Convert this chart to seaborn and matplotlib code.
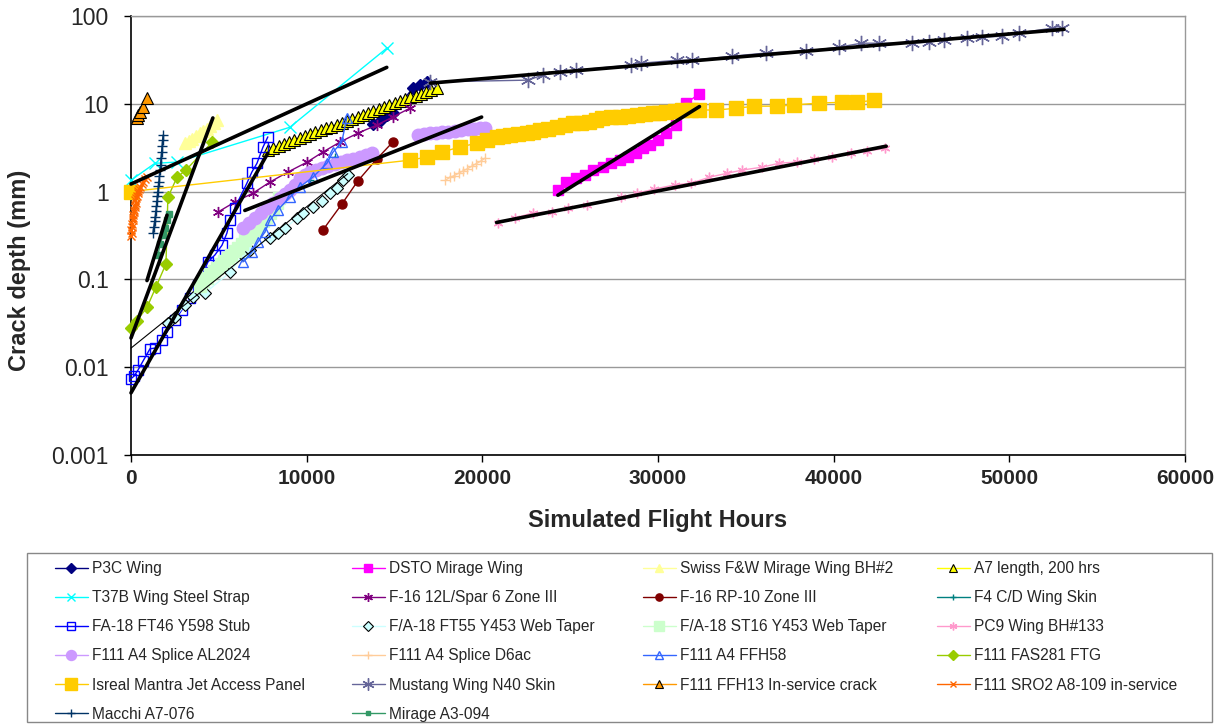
import matplotlib
matplotlib.use("Agg")
import matplotlib.pyplot as plt
from matplotlib.patches import Rectangle
from matplotlib.ticker import NullLocator
import seaborn as sns

# ---------------- data ----------------
p3c_x = [13760, 14160, 14560, 14900, 16040, 16440, 16830]
p3c_y = [5.9, 6.3, 7.4, 7.8, 15.1, 16.3, 17.7]

dsto_x = [24300, 24780, 25350, 25820, 26290, 26860, 27340, 27810, 28280, 28760,
          29140, 29520, 29990, 30460, 31030, 31600, 32360]
dsto_y = [1.04, 1.29, 1.41, 1.54, 1.76, 1.92, 2.09, 2.28, 2.49, 2.72,
          3.1, 3.38, 3.86, 4.6, 5.7, 10.1, 13.1]

swiss_x = [3100, 3300, 3500, 3700, 3900, 4100, 4300, 4500, 4700, 4900]
swiss_y = [3.6, 3.8, 4.0, 4.3, 4.6, 4.9, 5.2, 5.6, 6.0, 6.5]

a7_x = [7800, 8100, 8400, 8700, 9000, 9300, 9600, 9900, 10200, 10500, 10800,
        11100, 11400, 11700, 12000, 12300, 12600, 12900, 13200, 13500, 13800,
        14100, 14400, 14700, 15000, 15300, 15600, 15900, 16200, 16500, 16800,
        17100, 17400]
a7_y = [3.0, 3.15, 3.3, 3.5, 3.7, 3.85, 4.05, 4.3, 4.5, 4.75, 5.0,
        5.25, 5.5, 5.8, 6.1, 6.4, 6.8, 7.1, 7.5, 7.9, 8.3,
        8.7, 9.2, 9.6, 10.1, 10.7, 11.2, 11.8, 12.4, 13.1, 13.8,
        14.5, 15.1]

t37b_x = [0, 1360, 2620, 9040, 14560]
t37b_y = [1.35, 2.1, 2.17, 5.4, 43.0]

f16l_x = [4950, 5910, 6940, 7900, 8930, 10010, 10920, 11890, 12910, 13990, 14900, 15870]
f16l_y = [0.585, 0.76, 0.96, 1.28, 1.67, 2.16, 2.82, 3.66, 4.63, 5.72, 7.07, 8.9]

f16rp_x = [10920, 12000, 12910, 13990, 14900]
f16rp_y = [0.364, 0.72, 1.32, 2.35, 3.66]

f4_x = [10180, 10860, 11600]
f4_y = [1.35, 1.75, 2.47]

ft46_x = [0, 170, 400, 680, 1080, 1360, 1760, 2050, 2500, 2900, 3360, 3810,
          4380, 4780, 5180, 5460, 5630, 5910, 6600, 6880, 7170, 7510, 7790]
ft46_y = [0.0074, 0.0079, 0.0093, 0.0117, 0.0162, 0.0165, 0.0204, 0.0251, 0.0344,
          0.045, 0.061, 0.086, 0.158, 0.19, 0.245, 0.337, 0.47, 0.65, 1.25, 1.67,
          2.1, 3.2, 4.2]

ft55_x = [2100, 2500, 3070, 3530, 4210, 5630, 6370, 6770, 7900, 8360, 8760,
          9440, 9780, 10350, 10860, 11320, 11720, 12060, 12340]
ft55_y = [0.032, 0.037, 0.051, 0.063, 0.070, 0.12, 0.19, 0.216, 0.296, 0.34, 0.38,
          0.50, 0.57, 0.66, 0.79, 0.96, 1.1, 1.35, 1.54]

st16_x = [3900, 4100, 4300, 4500, 4700, 4900, 5100, 5300, 5500, 5700, 5900,
          6100, 6300, 6500, 6700, 6900, 7100, 7300, 7500, 7700, 7900, 8100, 8300, 8450]
st16_y = [0.085, 0.095, 0.105, 0.115, 0.125, 0.135, 0.15, 0.16, 0.175, 0.19, 0.21,
          0.23, 0.255, 0.28, 0.305, 0.335, 0.37, 0.41, 0.46, 0.51, 0.57, 0.64, 0.74, 0.85]

pc9_x = [20870, 21840, 22860, 23940, 24850, 25930, 27920, 28830, 29800, 30940,
         31900, 32930, 33950, 34800, 35940, 36910, 37930, 38900, 39920, 41000,
         41910, 42940]
pc9_y = [0.438, 0.50, 0.57, 0.59, 0.65, 0.70, 0.86, 0.96, 1.07, 1.19,
         1.25, 1.46, 1.62, 1.76, 1.90, 2.11, 2.17, 2.34, 2.47, 2.74,
         2.9, 3.1]

al2024_x_a = [6370, 6700, 7050, 7400, 7730, 8100, 8470, 8750, 9040, 9330, 9610,
              9900, 10180, 10520, 10860, 11230, 11600, 11940, 12280, 12650,
              13020, 13360, 13710]
al2024_y_a = [0.39, 0.44, 0.50, 0.57, 0.65, 0.74, 0.84, 0.94, 1.04, 1.2, 1.42,
              1.55, 1.67, 1.76, 1.85, 1.95, 2.06, 2.17, 2.28, 2.37,
              2.47, 2.6, 2.74]
al2024_x_b = [16320, 16660, 17000, 17350, 17690, 18060, 18430, 18800, 19170,
              19510, 19850, 20130]
al2024_y_b = [4.4, 4.52, 4.63, 4.7, 4.76, 4.82, 4.88, 5.0, 5.14, 5.2, 5.28, 5.35]

d6ac_x = [17900, 18150, 18400, 18650, 18900, 19150, 19400, 19650, 19900, 20150]
d6ac_y = [1.35, 1.45, 1.52, 1.62, 1.72, 1.82, 1.95, 2.08, 2.22, 2.4]

ffh58_x = [6370, 6880, 7220, 7620, 7900, 8360, 9040, 9610, 10350, 11150, 11490,
           12000, 12280]
ffh58_y = [0.158, 0.204, 0.266, 0.345, 0.47, 0.62, 0.86, 1.13, 1.46, 2.1, 2.8,
           3.66, 6.9]

fas281_x = [0, 340, 910, 1420, 1990, 2100, 2620, 3130, 4610]
fas281_y = [0.028, 0.034, 0.048, 0.082, 0.15, 0.86, 1.46, 1.76, 3.65]

isreal_x = [0, 15870, 16830, 17690, 18710, 19680, 20250, 20810, 21180, 21550, 22040,
            22520, 22890, 23260, 23750, 24230, 24690, 25140, 25620, 26100, 26470,
            26840, 27320, 27810, 28300, 28780, 29240, 29690, 30080, 30480, 30940,
            31390, 31880, 32360, 33330, 34460, 35490, 36800, 37760, 39180, 40490,
            41340, 42310]
isreal_y = [1.0, 2.28, 2.47, 2.82, 3.21, 3.56, 3.85, 4.17, 4.3, 4.4, 4.5,
            4.63, 4.8, 5.0, 5.2, 5.4, 5.7, 6.0, 6.1, 6.2, 6.5,
            6.9, 7.0, 7.06, 7.2, 7.4, 7.6, 7.8, 7.9, 8.0, 8.2,
            8.5, 8.5, 8.5, 8.5, 8.9, 9.4, 9.4, 9.7, 10.2, 10.4,
            10.4, 11.0]

mustang_x = [17000, 22580, 23430, 24400, 25360, 28490, 29060, 31110, 31960,
             34240, 36170, 38440, 40320, 41570, 42600, 44470, 45440, 46290,
             47600, 48450, 49590, 50560, 52430, 53000]
mustang_y = [17.7, 18.6, 21.2, 23.0, 24.2, 27.6, 29.0, 31.4, 31.4,
             34.9, 37.9, 39.9, 44.2, 49.0, 49.0, 49.0, 50.4, 53.0,
             55.9, 57.3, 58.8, 64.0, 72.8, 72.8]

ffh13_x = [340, 400, 510, 680, 910]
ffh13_y = [6.9, 7.4, 8.0, 9.2, 11.6]

sro2_x = [0, 40, 20, 80, 60, 110, 90, 140, 160, 150, 200, 230, 260, 240, 300,
          330, 380, 420, 470, 520, 600, 700, 800, 900]
sro2_y = [0.31, 0.34, 0.37, 0.40, 0.43, 0.47, 0.5, 0.54, 0.58, 0.62, 0.66, 0.7,
          0.75, 0.8, 0.85, 0.9, 0.96, 1.02, 1.08, 1.14, 1.22, 1.3, 1.38, 1.45]

macchi_x = [1250, 1300, 1350, 1380, 1420, 1450, 1480, 1500, 1530, 1560, 1590,
            1620, 1650, 1680, 1710, 1740, 1770, 1800, 1830]
macchi_y = [0.34, 0.40, 0.46, 0.52, 0.60, 0.68, 0.78, 0.88, 1.0, 1.15, 1.3,
            1.5, 1.75, 2.0, 2.4, 2.8, 3.3, 3.9, 4.4]

mirage_x = [1540, 1650, 1820, 1930, 2050, 2160]
mirage_y = [0.19, 0.25, 0.32, 0.39, 0.47, 0.56]

# trend lines: start/end hours and start/end depth
trend_x0 = [0, 0, 910, 0, 6480, 17050, 24300, 20810]
trend_x1 = [14560, 4660, 2050, 7790, 19960, 53110, 32360, 42990]
trend_y0 = [1.22, 0.0215, 0.097, 0.0051, 0.61, 17.2, 0.91, 0.445]
trend_y1 = [26.0, 6.9, 0.54, 2.74, 7.06, 70.5, 9.3, 3.29]
thin_trend_x = [0, 12340]
thin_trend_y = [0.0165, 1.6]

x_ticks = [0, 10000, 20000, 30000, 40000, 50000, 60000]
x_tick_labels = ["0", "10000", "20000", "30000", "40000", "50000", "60000"]
y_ticks = [0.001, 0.01, 0.1, 1, 10, 100]
y_tick_labels = ["0.001", "0.01", "0.1", "1", "10", "100"]

# ---------------- style ----------------
sns.set_theme(style="white")
plt.rcParams['font.family'] = ['Liberation Sans', 'DejaVu Sans']

W, H = 1223, 724
fig = plt.figure(figsize=(W / 100, H / 100), dpi=100)
L, R, T, B = 131, 1185, 16, 455
ax = fig.add_axes([L / W, 1 - B / H, (R - L) / W, (B - T) / H])
ax.set_yscale('log')

STAR = (6, 2, 0)

# label, x, y, color, marker, ms, facecolor, edgecolor, lw, mew
series = [
    ("P3C Wing", p3c_x, p3c_y, "#000080", "D", 6, "#000080", "#000080", 1.0, 1.0),
    ("DSTO Mirage Wing", dsto_x, dsto_y, "#FF00FF", "s", 7.5, "#FF00FF", "#FF00FF", 1.0, 1.0),
    ("Swiss F&W Mirage Wing BH#2", swiss_x, swiss_y, "#FFFF99", "^", 8, "#FFFF99", "#FFFF99", 1.0, 1.0),
    ("A7 length, 200 hrs", a7_x, a7_y, "#FFFF00", "^", 8, "#FFFF00", "#000000", 1.0, 0.8),
    ("T37B Wing Steel Strap", t37b_x, t37b_y, "#00FFFF", "x", 8, "#00FFFF", "#00FFFF", 1.0, 1.0),
    ("F-16 12L/Spar 6 Zone III", f16l_x, f16l_y, "#800080", STAR, 8, "#800080", "#800080", 1.0, 1.0),
    ("F-16 RP-10 Zone III", f16rp_x, f16rp_y, "#800000", "o", 6.5, "#800000", "#800000", 1.0, 1.0),
    ("F4 C/D Wing Skin", f4_x, f4_y, "#008080", "+", 6, "#008080", "#008080", 1.0, 1.0),
    ("FA-18 FT46 Y598 Stub", ft46_x, ft46_y, "#0000FF", "s", 7, "none", "#0000FF", 1.0, 1.0),
    ("F/A-18 FT55 Y453 Web Taper", ft55_x, ft55_y, "#CCFFFF", "D", 6, "#CCFFFF", "#000000", 1.0, 0.8),
    ("F/A-18 ST16 Y453 Web Taper", st16_x, st16_y, "#CCFFCC", "s", 9, "#CCFFCC", "#CCFFCC", 1.0, 1.0),
    ("PC9 Wing BH#133", pc9_x, pc9_y, "#FF99CC", STAR, 7, "#FF99CC", "#FF99CC", 1.0, 1.0),
    ("F111 A4 Splice AL2024", al2024_x_a, al2024_y_a, "#CC99FF", "o", 9, "#CC99FF", "#CC99FF", 1.0, 1.0),
    ("F111 A4 Splice D6ac", d6ac_x, d6ac_y, "#FFCC99", "+", 7, "#FFCC99", "#FFCC99", 1.0, 1.0),
    ("F111 A4 FFH58", ffh58_x, ffh58_y, "#3366FF", "^", 7, "none", "#3366FF", 1.0, 1.0),
    ("F111 FAS281 FTG", fas281_x, fas281_y, "#99CC00", "D", 6, "#99CC00", "#99CC00", 1.0, 1.0),
    ("Isreal Mantra Jet Access Panel", isreal_x, isreal_y, "#FFCC00", "s", 10, "#FFCC00", "#FFCC00", 1.0, 1.0),
    ("Mustang Wing N40 Skin", mustang_x, mustang_y, "#666699", STAR, 11, "#666699", "#666699", 1.0, 1.0),
    ("F111 FFH13 In-service crack", ffh13_x, ffh13_y, "#FF9900", "^", 8, "#FF9900", "#000000", 1.0, 0.8),
    ("F111 SRO2 A8-109 in-service", sro2_x, sro2_y, "#FF6600", "x", 6, "#FF6600", "#FF6600", 1.0, 1.0),
    ("Macchi A7-076", macchi_x, macchi_y, "#003366", "+", 7, "#003366", "#003366", 1.0, 1.0),
    ("Mirage A3-094", mirage_x, mirage_y, "#339966", "s", 4, "#339966", "#339966", 1.0, 1.0),
]

handles = []
labels = []
for lab, xs, ys, col, mk, ms, mfc, mec, lw, mew in series:
    sns.lineplot(x=xs, y=ys, ax=ax, sort=False, estimator=None, color=col,
                 marker=mk, markersize=ms, markerfacecolor=mfc,
                 markeredgecolor=mec, markeredgewidth=mew, linewidth=lw,
                 clip_on=False, zorder=3)
    handles.append(ax.lines[-1])
    labels.append(lab)
    if lab == "F111 A4 Splice AL2024":
        sns.lineplot(x=al2024_x_b, y=al2024_y_b, ax=ax, sort=False, estimator=None,
                     color=col, marker=mk, markersize=ms, markerfacecolor=mfc,
                     markeredgecolor=mec, markeredgewidth=mew, linewidth=lw,
                     clip_on=False, zorder=3)

# trend lines
for x0, x1, y0, y1 in zip(trend_x0, trend_x1, trend_y0, trend_y1):
    sns.lineplot(x=[x0, x1], y=[y0, y1], ax=ax, sort=False, estimator=None,
                 color="black", linewidth=2.6, zorder=5, clip_on=False)
sns.lineplot(x=thin_trend_x, y=thin_trend_y, ax=ax, sort=False, estimator=None,
             color="black", linewidth=0.8, zorder=5, clip_on=False)

if ax.get_legend() is not None:
    ax.get_legend().remove()

# axes
ax.set_xlim(0, 60000)
ax.set_ylim(0.001, 100)
ax.set_xticks(x_ticks)
ax.set_xticklabels(x_tick_labels, fontsize=15, fontweight='bold')
ax.set_yticks(y_ticks)
ax.set_yticklabels(y_tick_labels, fontsize=16.5)
ax.yaxis.set_minor_locator(NullLocator())
ax.xaxis.set_minor_locator(NullLocator())
ax.tick_params(axis='both', which='major', direction='out', length=5, width=1,
               color='black', left=True, bottom=True)
ax.tick_params(axis='y', pad=11)
ax.tick_params(axis='x', pad=5)
ax.yaxis.grid(True, color='#999999', linewidth=1.0)
ax.xaxis.grid(False)
ax.set_axisbelow(True)
for s in ['top', 'right']:
    ax.spines[s].set_color('#999999')
    ax.spines[s].set_linewidth(1.0)
for s in ['left', 'bottom']:
    ax.spines[s].set_color('black')
    ax.spines[s].set_linewidth(1.2)

ax.set_xlabel("Simulated Flight Hours", fontsize=17, fontweight='bold')
ax.set_ylabel("Crack depth (mm)", fontsize=17, fontweight='bold')
ax.xaxis.label.set_va('center')
ax.xaxis.set_label_coords(0.5, -(521 - B) / (B - T))
ax.yaxis.label.set_va('center')
ax.yaxis.set_label_coords((20 - L) / (R - L), (B - 270) / (B - T))

# legend: four columns, row-wise ordering like the reference
col_x = [55, 352, 643, 937]
top_y = 561
for c in range(4):
    idx = list(range(c, len(handles), 4))
    fig.legend([handles[i] for i in idx], [labels[i] for i in idx],
               loc='upper left', bbox_to_anchor=(col_x[c] / W, 1 - top_y / H),
               bbox_transform=fig.transFigure, frameon=False, borderpad=0,
               borderaxespad=0, fontsize=11.2, handlelength=2.1,
               handletextpad=0.25, labelspacing=0.91, numpoints=1,
               markerscale=0.8)
fig.add_artist(Rectangle((27 / W, 1 - 722 / H), (1212 - 27) / W, (722 - 553) / H,
                         transform=fig.transFigure, fill=False,
                         edgecolor='#888888', linewidth=1.0))

fig.savefig("out.png", dpi=100)
